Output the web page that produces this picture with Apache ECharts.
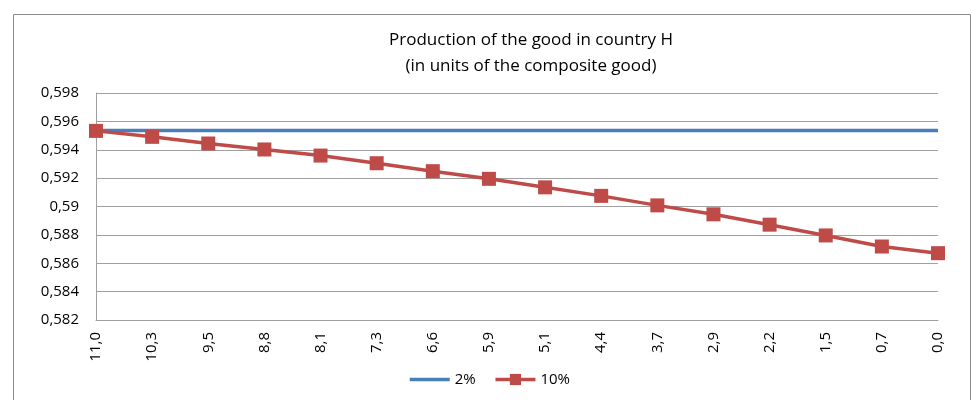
<!DOCTYPE html>
<html>
<head>
<meta charset="utf-8">
<script src="https://cdn.jsdelivr.net/npm/echarts@6/dist/echarts.min.js"></script>
<style>
  html, body { margin: 0; padding: 0; background: #fff; }
  #main { width: 978px; height: 400px; }
</style>
</head>
<body>
<div id="main"></div>
<script>
// x categories (read right to left as in the source)
var categories = ['11,0', '10,3', '9,5', '8,8', '8,1', '7,3', '6,6', '5,9', '5,1', '4,4', '3,7', '2,9', '2,2', '1,5', '0,7', '0,0'];
// 2% series is flat
var series2 = [0.59536, 0.59536, 0.59536, 0.59536, 0.59536, 0.59536, 0.59536, 0.59536,
               0.59536, 0.59536, 0.59536, 0.59536, 0.59536, 0.59536, 0.59536, 0.59536];
var series10 = [0.59533, 0.59491, 0.59444, 0.59402, 0.59359, 0.59305, 0.59249, 0.59195,
                0.59135, 0.59075, 0.59008, 0.58945, 0.58872, 0.58796, 0.58718, 0.58671];
var yMin = 0.582;
var yMax = 0.598;
var yStep = 0.002;

var chart = echarts.init(document.getElementById('main'));

function fmt(v) {
  // excel style: 0,59 / 0,598
  return String(parseFloat(v.toFixed(3))).replace('.', ',');
}

var option = {
  animation: false,
  textStyle: { fontFamily: 'Open Sans' },
  title: {
    text: 'Production of the good in country H\n(in units of the composite good)',
    left: 526,
    top: 22,
    textAlign: 'center',
    textStyle: { fontSize: 17, fontWeight: 'normal', color: '#000', lineHeight: 26, fontFamily: 'Open Sans' }
  },
  graphic: [{
    type: 'rect',
    shape: { x: 13.5, y: 14.5, width: 957, height: 400 },
    style: { fill: null, stroke: '#8c8c8c', lineWidth: 1 },
    silent: true
  }],
  legend: {
    bottom: 8,
    left: 'center',
    itemWidth: 40,
    itemHeight: 14,
    itemGap: 18,
    textStyle: { fontSize: 15, color: '#000', fontFamily: 'Open Sans' },
    lineStyle: { width: 3.5 },
    data: [
      { name: '2%', itemStyle: { opacity: 0 } },
      { name: '10%' }
    ]
  },
  grid: { left: 96, right: 40, top: 93, bottom: 80 },
  xAxis: {
    type: 'category',
    data: categories,
    boundaryGap: false,
    axisLine: { lineStyle: { color: '#a0a0a0', width: 1 } },
    axisTick: { show: false },
    axisLabel: { rotate: 90, color: '#000', fontSize: 15, margin: 12 }
  },
  yAxis: {
    type: 'value',
    min: yMin,
    max: yMax,
    interval: yStep,
    axisLine: { show: true, lineStyle: { color: '#a0a0a0', width: 1 } },
    axisTick: { show: false },
    axisLabel: { color: '#000', fontSize: 15, margin: 17, formatter: fmt },
    splitLine: { lineStyle: { color: '#a0a0a0', width: 1 } }
  },
  series: [
    {
      name: '2%',
      type: 'line',
      data: series2,
      symbol: 'none',
      lineStyle: { color: '#4a7ebb', width: 3.5 },
      itemStyle: { color: '#4a7ebb' }
    },
    {
      name: '10%',
      type: 'line',
      data: series10,
      symbol: 'rect',
      symbolSize: 14,
      lineStyle: { color: '#be4b48', width: 3.5 },
      itemStyle: { color: '#be4b48' }
    }
  ]
};
chart.setOption(option);
</script>
</body>
</html>
